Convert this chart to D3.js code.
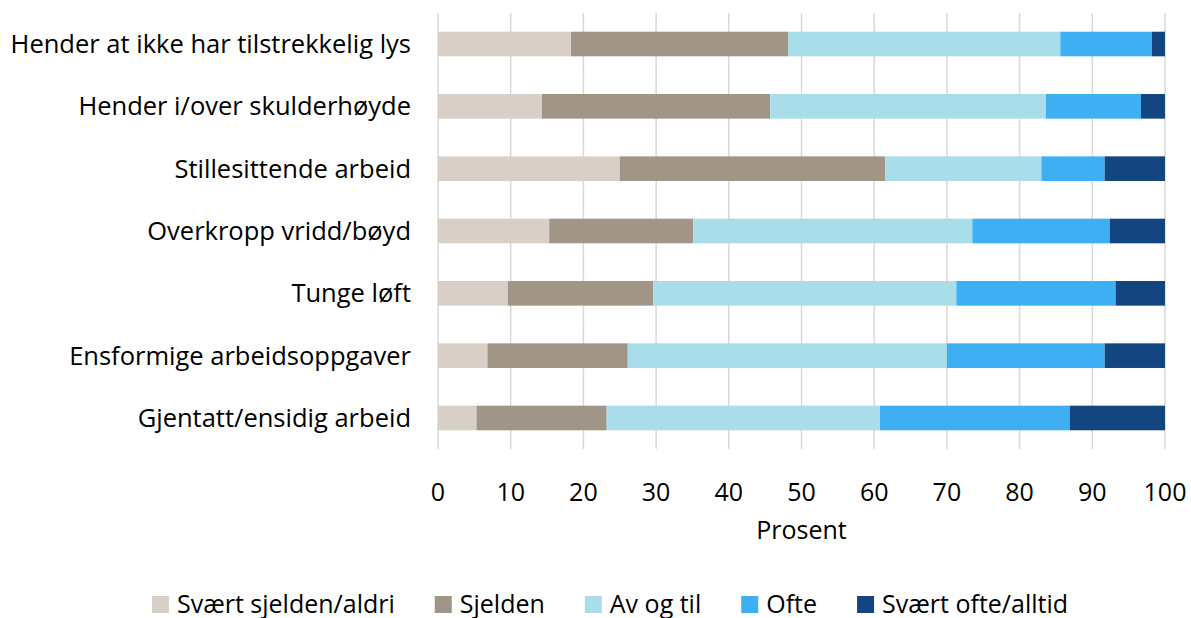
<!DOCTYPE html>
<html>
<head>
<meta charset="utf-8">
<script src="https://cdn.jsdelivr.net/npm/d3@7"></script>
<style>
  body { margin: 0; background: #fff; }
  text { font-family: "Open Sans", sans-serif; fill: #000; }
</style>
</head>
<body>
<script>
// data (percent per answer, stacked to 100)
var categories = ['Hender at ikke har tilstrekkelig lys', 'Hender i/over skulderhøyde', 'Stillesittende arbeid',
    'Overkropp vridd/bøyd', 'Tunge løft', 'Ensformige arbeidsoppgaver', 'Gjentatt/ensidig arbeid'];
var seriesNames = ['Svært sjelden/aldri', 'Sjelden', 'Av og til', 'Ofte', 'Svært ofte/alltid'];
var sjeldenAldri = [18.3, 14.3, 25.0, 15.3, 9.6, 6.8, 5.3];
var sjelden      = [29.9, 31.4, 36.5, 19.8, 20.0, 19.3, 17.9];
var avOgTil      = [37.4, 37.9, 21.5, 38.4, 41.7, 43.9, 37.6];
var ofte         = [12.6, 13.1, 8.7, 18.9, 21.9, 21.7, 26.1];
var ofteAlltid   = [1.8, 3.3, 8.3, 7.6, 6.8, 8.3, 13.1];
var xTicks = [0, 10, 20, 30, 40, 50, 60, 70, 80, 90, 100];
var colors = ['#d8d0c6', '#a19587', '#a8dde9', '#3daff2', '#134580'];

var W = 1191, H = 618;
var margin = {top: 13, right: 26, bottom: 169, left: 438};
var width = W - margin.left - margin.right;
var height = H - margin.top - margin.bottom;

var rows = categories.map(function(c, i){
    return {cat: c, v: [sjeldenAldri[i], sjelden[i], avOgTil[i], ofte[i], ofteAlltid[i]]};
});

var svg = d3.select('body').append('svg')
    .attr('width', W).attr('height', H);
var g = svg.append('g')
    .attr('transform', 'translate(' + margin.left + ',' + margin.top + ')');

var xScale = d3.scaleLinear().domain([0, 100]).range([0, width]);
var yScale = d3.scaleBand().domain(categories).range([0, height]).paddingInner(0.605).paddingOuter(0.3);

// grid lines
g.selectAll('.grid').data(xTicks).enter().append('line')
    .attr('class', 'grid')
    .attr('x1', function(d){ return xScale(d); })
    .attr('x2', function(d){ return xScale(d); })
    .attr('y1', 0).attr('y2', height)
    .style('stroke', '#d9d9d9').style('stroke-width', 1.5);

// stacked bars
var stack = d3.stack().keys([0, 1, 2, 3, 4]).value(function(d, k){ return d.v[k]; });
var layers = stack(rows);
g.selectAll('.layer').data(layers).enter().append('g')
    .attr('class', 'layer')
    .style('fill', function(d, i){ return colors[i]; })
  .selectAll('rect').data(function(d){ return d; }).enter().append('rect')
    .attr('x', function(d){ return xScale(d[0]); })
    .attr('width', function(d){ return xScale(d[1]) - xScale(d[0]); })
    .attr('y', function(d){ return yScale(d.data.cat); })
    .attr('height', yScale.bandwidth());

// category labels
g.selectAll('.cat').data(categories).enter().append('text')
    .attr('class', 'cat')
    .attr('x', -27)
    .attr('y', function(d){ return yScale(d) + yScale.bandwidth() / 2; })
    .attr('dy', '0.35em')
    .attr('text-anchor', 'end')
    .style('font-size', '25.5px')
    .text(function(d){ return d; });

// tick labels
g.selectAll('.tick-l').data(xTicks).enter().append('text')
    .attr('class', 'tick-l')
    .attr('x', function(d){ return xScale(d); })
    .attr('y', height + 43)
    .attr('dy', '0.35em')
    .attr('text-anchor', 'middle')
    .style('font-size', '25px')
    .text(function(d){ return d; });

g.append('text')
    .attr('x', width / 2).attr('y', height + 81)
    .attr('dy', '0.35em')
    .attr('text-anchor', 'middle')
    .style('font-size', '25px')
    .text('Prosent');

// legend
var legend = svg.append('g');
var lx = 0;
seriesNames.forEach(function(name, i){
    var it = legend.append('g').attr('transform', 'translate(' + lx + ',0)');
    it.append('rect').attr('x', 0).attr('y', -17).attr('width', 17).attr('height', 17).style('fill', colors[i]);
    var t = it.append('text').attr('x', 25).attr('y', 0).style('font-size', '25px').text(name);
    lx += 25 + t.node().getComputedTextLength() + 40;
});
lx -= 40;
legend.attr('transform', 'translate(' + (610 - lx / 2) + ',613)');
</script>
</body>
</html>
